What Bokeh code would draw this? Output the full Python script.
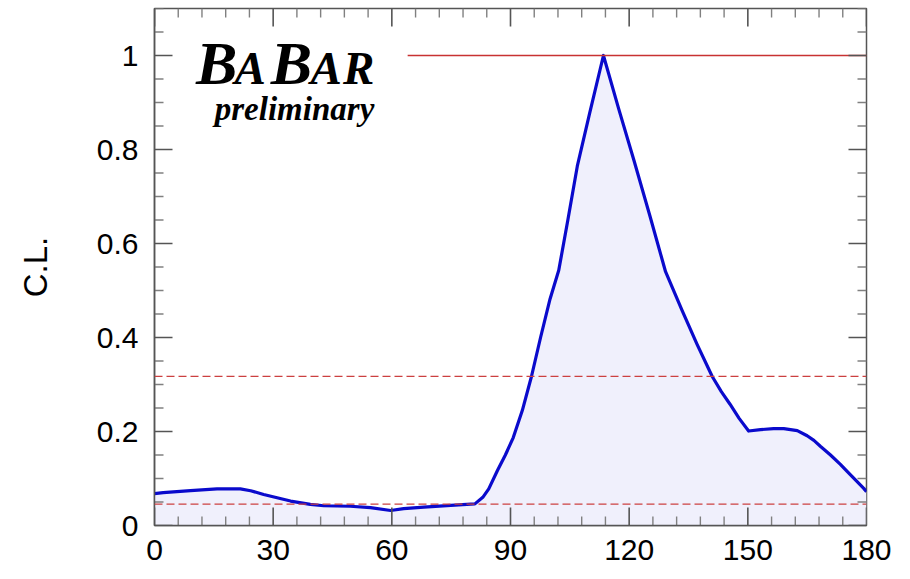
from bokeh.plotting import figure
from bokeh.models import (Range1d, FixedTicker, Span, Label,
                          CustomJSTickFormatter, ColumnDataSource)
from bokeh.embed import file_html
from bokeh.resources import INLINE

# Confidence level as a function of the angle (degrees)
angle = [0, 2.2, 9.1, 15.8, 21.7, 24.3, 27.6, 31, 34.4, 39.4,
         42.8, 49.5, 54.6, 59.7, 63.0, 68.1, 74.9, 81.0, 83.0, 84.5,
         86.7, 88.7, 90.7, 93.0, 95.3, 97.6, 100.0, 102.2, 104.5, 106.9,
         110.0, 113.5, 117.3, 121.2, 125.2, 129.2, 133.4, 137.2, 141.0, 143.3,
         145.5, 147.8, 150.2, 153.2, 156.5, 159.1, 162.5, 165.0, 166.7, 168.4,
         170.9, 173.4, 175.1, 177.2, 179.3, 180]
cl = [0.068, 0.070, 0.074, 0.078, 0.078, 0.074, 0.066, 0.059, 0.052, 0.045,
      0.042, 0.041, 0.038, 0.032, 0.036, 0.039, 0.043, 0.046, 0.060, 0.078,
      0.117, 0.150, 0.187, 0.245, 0.317, 0.400, 0.482, 0.543, 0.650, 0.765,
      0.877, 1.000, 0.888, 0.777, 0.660, 0.540, 0.457, 0.385, 0.317, 0.285,
      0.258, 0.228, 0.201, 0.204, 0.206, 0.206, 0.202, 0.191, 0.181, 0.168,
      0.150, 0.130, 0.115, 0.097, 0.079, 0.072]

# Reference levels
cl_one_sigma = 0.3173
cl_two_sigma = 0.0455
cl_max = 1.0
cl_max_start = 64

x_lo, x_hi = 0, 180
y_lo, y_hi = 0, 1.1
x_major = [0, 30, 60, 90, 120, 150, 180]
x_minor = [t for t in range(0, 181, 6) if t % 30]
y_major = [0, 0.2, 0.4, 0.6, 0.8, 1.0]
y_minor = [round(0.05 * k, 2) for k in range(23) if k % 4]

FRAME_W, FRAME_H = 712, 517
BORDER_L, BORDER_R, BORDER_T, BORDER_B = 154, 44, 8, 54
MAJOR_LEN, MINOR_LEN = 18, 9  # tick lengths in pixels

src = ColumnDataSource(dict(angle=angle, cl=cl))

p = figure(width=BORDER_L + FRAME_W + BORDER_R, height=BORDER_T + FRAME_H + BORDER_B,
           x_range=Range1d(x_lo, x_hi), y_range=Range1d(y_lo, y_hi),
           output_backend="svg", toolbar_location=None,
           min_border_left=BORDER_L, min_border_right=BORDER_R,
           min_border_top=BORDER_T, min_border_bottom=BORDER_B)
p.grid.visible = False
p.outline_line_color = "#555555"
p.outline_line_width = 1.5
p.background_fill_color = "white"
p.border_fill_color = "white"

# filled area under the curve and the curve itself
p.varea(x="angle", y1=0, y2="cl", source=src, fill_color="#f0f0fc")
p.line(x="angle", y="cl", source=src, line_color="#0a0acc", line_width=3.2,
       line_join="round")

# reference lines
for lvl in (cl_one_sigma, cl_two_sigma):
    p.add_layout(Span(location=lvl, dimension="width", line_color="#cc4040",
                      line_width=1.3, line_dash="8 4"))
p.segment(x0=[cl_max_start], y0=[cl_max], x1=[x_hi], y1=[cl_max],
          line_color="#c83232", line_width=1.5)

# inward ticks on all four sides
dx_per_px = (x_hi - x_lo) / FRAME_W
dy_per_px = (y_hi - y_lo) / FRAME_H
tick_styles = ((MAJOR_LEN, "#555555", 1.6), (MINOR_LEN, "#808080", 1.4))
for ticks, (length, color, lw) in zip((x_major, x_minor), tick_styles):
    n = len(ticks)
    h = length * dy_per_px
    p.segment(x0=ticks, y0=[y_lo] * n, x1=ticks, y1=[y_lo + h] * n,
              line_color=color, line_width=lw)
    p.segment(x0=ticks, y0=[y_hi] * n, x1=ticks, y1=[y_hi - h] * n,
              line_color=color, line_width=lw)
for ticks, (length, color, lw) in zip((y_major, y_minor), tick_styles):
    n = len(ticks)
    w = length * dx_per_px
    p.segment(x0=[x_lo] * n, y0=ticks, x1=[x_lo + w] * n, y1=ticks,
              line_color=color, line_width=lw)
    p.segment(x0=[x_hi] * n, y0=ticks, x1=[x_hi - w] * n, y1=ticks,
              line_color=color, line_width=lw)

label_font = "Liberation Sans"

xa = p.xaxis[0]
ya = p.yaxis[0]
for ax, major in ((xa, x_major), (ya, y_major)):
    ax.ticker = FixedTicker(ticks=major, minor_ticks=[])
    ax.major_tick_in = 0
    ax.major_tick_out = 0
    ax.minor_tick_in = 0
    ax.minor_tick_out = 0
    ax.axis_line_color = "#555555"
    ax.axis_line_width = 1.5
    ax.major_label_text_font = label_font
    ax.major_label_text_font_size = "30px"
    ax.major_label_text_color = "black"

xa.major_label_standoff = 14
ya.formatter = CustomJSTickFormatter(code="return String(Math.round(tick*10)/10)")
ya.major_label_standoff = 16
ya.axis_label = "C.L."
ya.axis_label_text_font = label_font
ya.axis_label_text_font_size = "33px"
ya.axis_label_text_font_style = "normal"
ya.axis_label_text_color = "black"
ya.axis_label_standoff = 40

# experiment logo (small-caps look built letter by letter)
logo_font = "Liberation Serif"
logo_base = 0.9404
for ch, xc, size in [("B", 15.7, 62), ("A", 24.2, 47), ("B", 34.6, 62),
                     ("A", 43.4, 47), ("R", 51.6, 47)]:
    p.add_layout(Label(x=xc, y=logo_base, y_offset=0.3375 * size, text=ch,
                       text_font=logo_font, text_font_style="bold italic",
                       text_font_size=f"{size}px", text_align="center",
                       text_baseline="middle", text_color="black"))
p.add_layout(Label(x=35.4, y=0.862, y_offset=0.3375 * 33, text="preliminary",
                   text_font=logo_font, text_font_style="bold italic",
                   text_font_size="33px", text_align="center",
                   text_baseline="middle", text_color="black"))

open("out.html", "w").write(file_html(p, INLINE))
